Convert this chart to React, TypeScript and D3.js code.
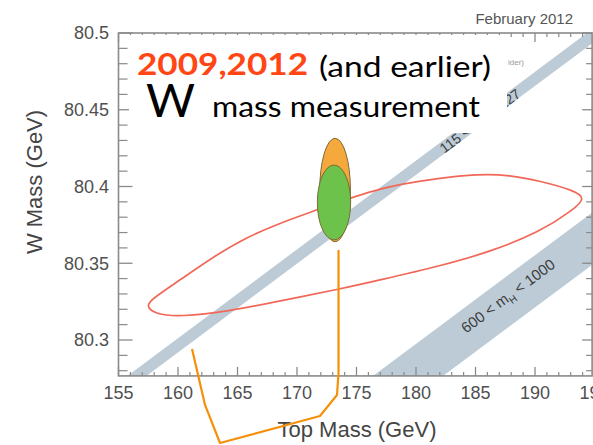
import React from 'react';
import * as d3 from 'd3';

// axis ticks
const xTicks = [155, 160, 165, 170, 175, 180, 185, 190, 195];
const yTicks = [80.3, 80.35, 80.4, 80.45, 80.5];
const yTickLabels = ['80.3', '80.35', '80.4', '80.45', '80.5'];

// Higgs mass bands (top mass, W mass) polygons
const band115 = [[151.16, 80.25], [197.82, 80.52], [199.42, 80.52], [152.76, 80.25]];
const band600 = [[171.79, 80.25], [218.5, 80.52], [224.4, 80.52], [177.67, 80.25]];

// indirect 68% contour (top mass, W mass), control points
const lepContour = [
  [157.31, 80.3221], [157.8, 80.3267], [160.17, 80.3391], [162.94, 80.3541], [165.8, 80.3671],
  [168.57, 80.3762], [171.68, 80.3847], [176.97, 80.3997], [182.02, 80.4055], [185.13, 80.4081],
  [187.9, 80.4075], [190.42, 80.4036], [193.19, 80.3977], [194.29, 80.3925], [193.19, 80.3847],
  [190.42, 80.3704], [186.22, 80.3574], [182.02, 80.3482], [176.97, 80.3391], [173.61, 80.3332],
  [168.57, 80.3254], [164.37, 80.3189], [160.17, 80.315], [158.07, 80.3169],
];

// direct measurements: centre and half widths
const meas2009 = { mt: 173.2, mW: 80.3977, dmt: 1.29, dmW: 0.0337 };
const meas2012 = { mt: 173.11, mW: 80.3896, dmt: 1.4, dmW: 0.0244 };

// hand drawn arrow
const arrowPts = [
  [161.18, 80.2941], [162.27, 80.2577], [163.53, 80.2329], [171.93, 80.2505],
  [173.36, 80.2642], [173.49, 80.2785], [173.49, 80.3586],
];

const W = 593;
const H = 445;
const sans = '"Liberation Sans", Arial, sans-serif';
const gill = 'Lato, "Open Sans", sans-serif';

export default function App() {
  const x = d3.scaleLinear().domain([155, 195]).range([118.5, 594.5]);
  const y = d3.scaleLinear().domain([80.3, 80.5]).range([340, 33]);
  const left = x(155), right = x(194.8), top = y(80.5), bottom = y(80.2766);

  const xMinor = d3.range(156, 195).filter(v => v % 5 !== 0);
  const yMinor = d3.range(8028, 8050).filter(v => v % 5 !== 0).map(v => v / 100);

  const poly = (pts: number[][]) => pts.map(p => `${x(p[0])},${y(p[1])}`).join(' ');
  const angle = (pts: number[][]) =>
    (Math.atan2(y(pts[1][1]) - y(pts[0][1]), x(pts[1][0]) - x(pts[0][0])) * 180) / Math.PI;

  const lepPath = d3.line<number[]>()
    .x(d => x(d[0]))
    .y(d => y(d[1]))
    .curve(d3.curveBasisClosed)(lepContour);

  const arrowPath = d3.line<number[]>().x(d => x(d[0])).y(d => y(d[1]))(arrowPts);

  const a1 = angle(band115);
  const a2 = angle(band600);

  const ell = (m: typeof meas2009, fill: string) => (
    <ellipse cx={x(m.mt)} cy={y(m.mW)} rx={x(m.mt + m.dmt) - x(m.mt)} ry={y(m.mW - m.dmW) - y(m.mW)}
      fill={fill} stroke="#7d6a35" strokeWidth={1} />
  );

  const tickColor = '#8a8a8a';

  return (
    <svg width={W} height={H} style={{ position: 'absolute', left: 0, top: 0, background: '#fff' }}>
      <defs>
        <clipPath id="plot">
          <rect x={left} y={top} width={right - left} height={bottom - top} />
        </clipPath>
      </defs>

      <g clipPath="url(#plot)">
        <polygon points={poly(band115)} fill="#bccbd6" />
        <polygon points={poly(band600)} fill="#bccbd6" />
        <text transform={`translate(${x(185.38)},${y(80.4427)}) rotate(${a1})`} textAnchor="middle" dy="0.35em"
          fontFamily={sans} fontSize={14} fill="#3a3a3a">
          115 &lt; m<tspan fontSize={10} dy={4}>H</tspan><tspan dy={-4}> &lt; 127</tspan>
        </text>
        <text transform={`translate(${x(187.73)},${y(80.3287)}) rotate(${a2})`} textAnchor="middle" dy="0.35em"
          fontFamily={sans} fontSize={15} fill="#3a3a3a">
          600 &lt; m<tspan fontSize={10} dy={4}>H</tspan><tspan dy={-4}> &lt; 1000</tspan>
        </text>
        <path d={lepPath ?? ''} fill="none" stroke="#f26858" strokeWidth={1.7} />
        {ell(meas2009, '#f5a83c')}
        {ell(meas2012, '#6cc24a')}
      </g>

      {/* frame and ticks */}
      <rect x={left} y={top} width={right - left} height={bottom - top} fill="none" stroke={tickColor} strokeWidth={1.6} />
      {xTicks.filter(v => x(v) < right).map(v => (
        <g key={'xt' + v}>
          <line x1={x(v)} x2={x(v)} y1={bottom} y2={bottom - 9} stroke={tickColor} strokeWidth={1.3} />
          <line x1={x(v)} x2={x(v)} y1={top} y2={top + 9} stroke={tickColor} strokeWidth={1.3} />
        </g>
      ))}
      {xMinor.map(v => (
        <g key={'xm' + v}>
          <line x1={x(v)} x2={x(v)} y1={bottom} y2={bottom - 4} stroke={tickColor} strokeWidth={1.2} />
          <line x1={x(v)} x2={x(v)} y1={top} y2={top + 4} stroke={tickColor} strokeWidth={1.2} />
        </g>
      ))}
      {yTicks.map(v => (
        <g key={'yt' + v}>
          <line x1={left} x2={left + 14} y1={y(v)} y2={y(v)} stroke={tickColor} strokeWidth={1.3} />
          <line x1={right} x2={right - 10} y1={y(v)} y2={y(v)} stroke={tickColor} strokeWidth={1.3} />
        </g>
      ))}
      {yMinor.map(v => (
        <g key={'ym' + v}>
          <line x1={left} x2={left + 9} y1={y(v)} y2={y(v)} stroke={tickColor} strokeWidth={1.2} />
          <line x1={right} x2={right - 6} y1={y(v)} y2={y(v)} stroke={tickColor} strokeWidth={1.2} />
        </g>
      ))}

      <text x={508} y={65} fontFamily={sans} fontSize={8} fill="#999">ider)</text>

      {/* overlay text box */}
      <rect x={129} y={35} width={378} height={98} fill="#fff" />
      <text x={137} y={75} fontFamily={gill} fontWeight={700} fontSize={30} fill="#ff4614"
        textLength={171} lengthAdjust="spacingAndGlyphs">2009,2012</text>
      <text x={319} y={77} fontFamily={gill} fontSize={28} fill="#000"
        textLength={172} lengthAdjust="spacingAndGlyphs">(and earlier)</text>
      <text x={146} y={117} fontFamily={gill} fontSize={47} fill="#000"
        textLength={49} lengthAdjust="spacingAndGlyphs">W</text>
      <text x={212} y={117} fontFamily={gill} fontSize={29} fill="#000"
        textLength={268} lengthAdjust="spacingAndGlyphs">mass measurement</text>

      {/* tick labels */}
      {xTicks.map(v => (
        <text key={'xl' + v} x={x(v)} y={399} textAnchor="middle" fontFamily={sans} fontSize={18} fill="#505050">{v}</text>
      ))}
      {yTicks.map((v, i) => (
        <text key={'yl' + v} x={109} y={y(v)} dy="0.36em" textAnchor="end" fontFamily={sans} fontSize={18} fill="#505050">
          {yTickLabels[i]}
        </text>
      ))}

      <text x={357} y={437} textAnchor="middle" fontFamily={sans} fontSize={22} fill="#454545">Top Mass (GeV)</text>
      <text transform="translate(42,182) rotate(-90)" textAnchor="middle" fontFamily={sans} fontSize={22} fill="#454545">
        W Mass (GeV)
      </text>
      <text x={573} y={24} textAnchor="end" fontFamily={sans} fontSize={15} fill="#555">February 2012</text>

      <path d={arrowPath ?? ''} fill="none" stroke="#f5900a" strokeWidth={2.2} strokeLinejoin="round" />
    </svg>
  );
}
